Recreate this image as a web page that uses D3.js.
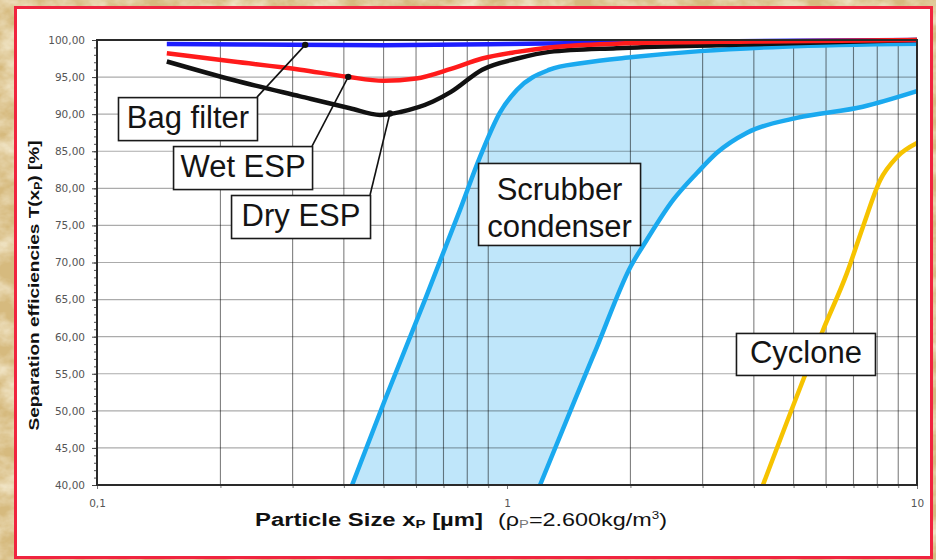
<!DOCTYPE html>
<html>
<head>
<meta charset="utf-8">
<script src="https://cdn.jsdelivr.net/npm/d3@7"></script>
<style>
  html, body { margin: 0; padding: 0; background: #dcc28a; }
  svg { display: block; }
</style>
</head>
<body>
<svg id="chart" width="936" height="560"></svg>
<script>
// ---- Data: separation efficiency (%) versus particle size (µm) ----
const yTickValues = d3.range(40, 101, 5);
const yMinorValues = d3.range(40, 101, 1);
const xTickValues = [0.1, 1, 10];
const xGridValues = [0.2, 0.3, 0.4, 0.5, 0.6, 0.7, 0.8, 0.9, 2, 3, 4, 5, 6, 7, 8, 9];

const bagFilter = [[0.148, 99.45], [0.3, 99.35], [0.5, 99.3], [1, 99.45], [2, 99.7], [5, 99.9], [10, 100]];
const wetESP = [[0.148, 98.2], [0.215, 97.1], [0.313, 96.0], [0.407, 95.05], [0.5, 94.5], [0.6, 94.8],
                [0.73, 96.1], [0.87, 97.5], [1.06, 98.4], [1.27, 99.0], [1.85, 99.5], [4, 99.8], [10, 100]];
const dryESP = [[0.148, 97.1], [0.215, 94.6], [0.313, 92.4], [0.414, 90.8], [0.49, 89.9], [0.55, 90.3],
                [0.66, 91.7], [0.73, 93.0], [0.87, 96.0], [1.06, 97.5], [1.27, 98.4], [1.85, 98.9],
                [3.25, 99.3], [10, 100]];
const scrubberUpper = [[0.419, 40], [0.504, 51.5], [0.63, 64.9], [0.768, 77.1], [0.859, 84.2], [0.961, 90.2],
                       [1.058, 93.3], [1.27, 96.0], [1.53, 96.9], [2.03, 97.7], [2.96, 98.5], [4.71, 99.1], [10, 99.5]];
const scrubberLower = [[1.204, 40], [1.465, 51.5], [1.657, 58.6], [2.0, 69.4], [2.19, 73.0], [2.54, 78.4],
                       [2.91, 82.1], [3.25, 84.8], [3.85, 87.5], [5.09, 89.5], [7.38, 91.0], [10, 93.1]];
const cyclone = [[4.21, 40], [5.9, 60.9], [6.75, 68.6], [7.38, 74.8], [8.13, 81.1], [8.93, 84.2], [10, 86.1]];

// Callout labels: marker position on the curve (x), box anchored by its top-right corner (data units)
const calloutNames = ["Bag filter", "Wet ESP", "Dry ESP"];
const calloutMarkX = [0.322, 0.41, 0.518];
const calloutBoxX = [0.2456, 0.3346, 0.4634];
const calloutBoxY = [92.3, 85.7, 79.1];

// ---- Layout ----
const svg = d3.select("#chart");
const W = 936, H = 560;
const plot = { left: 97, top: 40, right: 917, bottom: 485 };

const x = d3.scaleLog().domain([0.1, 10]).range([plot.left, plot.right]);
const y = d3.scaleLinear().domain([40, 100]).range([plot.bottom, plot.top]);

const locale = d3.formatLocale({ decimal: ",", thousands: ".", grouping: [3], currency: ["", ""] });
const fmtY = locale.format(".2f");
const fmtX = locale.format("~g");

// Parchment background texture
const defs = svg.append("defs");
const paper = defs.append("filter").attr("id", "paper").attr("x", 0).attr("y", 0).attr("width", 1).attr("height", 1);
paper.append("feTurbulence").attr("type", "fractalNoise").attr("baseFrequency", "0.035 0.05")
  .attr("numOctaves", 4).attr("seed", 7);
paper.append("feColorMatrix").attr("type", "matrix")
  .attr("values", "0 0 0 0 0.95  0 0 0 0 0.89  0 0 0 0 0.72  1.6 0 0 0 -0.55");
svg.append("rect").attr("width", W).attr("height", H).attr("fill", "#d6ba7e");
svg.append("rect").attr("width", W).attr("height", H).attr("filter", "url(#paper)");

// White panel with red border
svg.append("rect").attr("x", 15.5).attr("y", 7.5).attr("width", 916).attr("height", 550)
  .attr("fill", "#ffffff").attr("stroke", "#f0243f").attr("stroke-width", 3);

const line = d3.line().x(d => x(d[0])).y(d => y(d[1])).curve(d3.curveMonotoneX);

// Scrubber condenser band
const bandPath = line(scrubberUpper) + line(scrubberLower.slice().reverse()).replace(/^M/, "L") + "Z";
svg.append("path").attr("d", bandPath).attr("fill", "#bfe6fa").attr("stroke", "none");

// Grid
const grid = svg.append("g");
grid.selectAll("line.h").data(yTickValues.filter(v => v > 40 && v < 100)).join("line")
  .attr("x1", plot.left).attr("x2", plot.right)
  .attr("y1", d => y(d)).attr("y2", d => y(d))
  .attr("stroke", "rgba(0,0,0,0.33)").attr("stroke-width", 1.2);
grid.selectAll("line.v").data(xGridValues).join("line")
  .attr("x1", d => x(d)).attr("x2", d => x(d))
  .attr("y1", plot.top).attr("y2", plot.bottom)
  .attr("stroke", "rgba(0,0,0,0.5)").attr("stroke-width", 1.1);

// Curves
function drawCurve(data, color, width) {
  svg.append("path").datum(data).attr("d", line)
    .attr("fill", "none").attr("stroke", color).attr("stroke-width", width)
    .attr("stroke-linejoin", "round").attr("stroke-linecap", "butt");
}
drawCurve(scrubberUpper, "#1aa9ef", 4.5);
drawCurve(scrubberLower, "#1aa9ef", 4.5);
drawCurve(cyclone, "#f6c300", 4.5);
drawCurve(bagFilter, "#1e1eff", 4.5);
drawCurve(dryESP, "#111111", 4.5);
drawCurve(wetESP, "#ff1b1b", 4.5);

// Axes
const yMinor = svg.append("g").attr("transform", `translate(${plot.left},0)`)
  .call(d3.axisLeft(y).tickValues(yMinorValues).tickSize(3).tickFormat(""));
yMinor.select(".domain").remove();
yMinor.selectAll("line").attr("stroke", "#555");

const yAxis = svg.append("g").attr("transform", `translate(${plot.left},0)`)
  .call(d3.axisLeft(y).tickValues(yTickValues).tickSize(5).tickPadding(7).tickFormat(fmtY));
yAxis.select(".domain").remove();
yAxis.selectAll("line").attr("stroke", "#444");
yAxis.selectAll("text").attr("font-family", "DejaVu Sans, sans-serif").attr("font-size", 10.5).attr("fill", "#555");

const xMinor = svg.append("g").attr("transform", `translate(0,${plot.bottom})`)
  .call(d3.axisBottom(x).tickValues(xGridValues).tickSize(3).tickFormat(""));
xMinor.select(".domain").remove();
xMinor.selectAll("line").attr("stroke", "#777");

const xAxis = svg.append("g").attr("transform", `translate(0,${plot.bottom})`)
  .call(d3.axisBottom(x).tickValues(xTickValues).tickSize(4).tickPadding(11).tickFormat(fmtX));
xAxis.select(".domain").remove();
xAxis.selectAll("line").attr("stroke", "#777");
xAxis.selectAll("text").attr("font-family", "DejaVu Sans, sans-serif").attr("font-size", 10.5).attr("fill", "#555");

// Plot frame
svg.append("rect").attr("x", plot.left).attr("y", plot.top)
  .attr("width", plot.right - plot.left).attr("height", plot.bottom - plot.top)
  .attr("fill", "none").attr("stroke", "#2a2a2a").attr("stroke-width", 2);

// Axis titles
const yTitle = svg.append("text")
  .attr("transform", `translate(39,${(plot.top + plot.bottom) / 2 + 23}) rotate(-90)`)
  .attr("text-anchor", "middle")
  .attr("font-family", "Liberation Sans, Arial, sans-serif").attr("font-weight", "bold")
  .attr("font-size", 15.5).attr("fill", "#111")
  .attr("textLength", 290).attr("lengthAdjust", "spacingAndGlyphs");
yTitle.append("tspan").text("Separation efficiencies T(x");
yTitle.append("tspan").attr("font-size", 10).attr("dy", 3).text("P");
yTitle.append("tspan").attr("dy", -3).text(") [%]");

const xTitle = svg.append("text").attr("x", 255).attr("y", 526)
  .attr("font-family", "Liberation Sans, Arial, sans-serif").attr("font-weight", "bold")
  .attr("font-size", 17.5).attr("fill", "#111")
  .attr("textLength", 228).attr("lengthAdjust", "spacingAndGlyphs");
xTitle.append("tspan").text("Particle Size x");
xTitle.append("tspan").attr("font-size", 11).attr("dy", 2).text("P");
xTitle.append("tspan").attr("dy", -2).text(" [µm]");

const xTitle2 = svg.append("text").attr("x", 498).attr("y", 526)
  .attr("font-family", "Liberation Sans, Arial, sans-serif")
  .attr("font-size", 17.5).attr("fill", "#111")
  .attr("textLength", 169).attr("lengthAdjust", "spacingAndGlyphs");
xTitle2.append("tspan").text("(ρ");
xTitle2.append("tspan").attr("font-size", 11).attr("dy", 2).attr("fill", "#777").text("P");
xTitle2.append("tspan").attr("dy", -2).text("=2.600kg/m");
xTitle2.append("tspan").attr("font-size", 10).attr("dy", -7).text("3");
xTitle2.append("tspan").attr("dy", 7).text(")");

// Value of a series at a given particle size (linear in log-x between points)
function valueAt(series, xv) {
  const lx = Math.log10(xv);
  for (let i = 1; i < series.length; i++) {
    const a = series[i - 1], b = series[i];
    if (xv <= b[0]) {
      const t = (lx - Math.log10(a[0])) / (Math.log10(b[0]) - Math.log10(a[0]));
      return a[1] + t * (b[1] - a[1]);
    }
  }
  return series[series.length - 1][1];
}

// Labelled boxes
const boxFont = "Liberation Sans, Arial, sans-serif";
function labelBox(g, left, top, w, h, lines, baselines) {
  g.append("rect").attr("x", left + 0.5).attr("y", top + 0.5).attr("width", w).attr("height", h)
    .attr("fill", "#ffffff").attr("stroke", "#1a1a1a").attr("stroke-width", 1.6);
  lines.forEach((t, i) => {
    g.append("text").attr("x", left + w / 2 + 0.5).attr("y", top + baselines[i])
      .attr("text-anchor", "middle").attr("font-family", boxFont).attr("font-size", 31)
      .attr("fill", "#141414").text(t);
  });
}

const seriesForCallout = [bagFilter, wetESP, dryESP];
const callouts = svg.append("g");
calloutNames.forEach((name, i) => {
  const mx = x(calloutMarkX[i]);
  const my = y(valueAt(seriesForCallout[i], calloutMarkX[i]));
  const bx = x(calloutBoxX[i]);
  const by = y(calloutBoxY[i]);
  const g = callouts.append("g");
  g.append("line").attr("x1", mx).attr("y1", my).attr("x2", bx).attr("y2", by)
    .attr("stroke", "#111").attr("stroke-width", 1.6);
  labelBox(g, bx - 139, by, 139, 43, [name], [31]);
  g.append("circle").attr("cx", mx).attr("cy", my).attr("r", 3.2).attr("fill", "#111");
});

labelBox(svg.append("g"), x(0.850), y(83.42), 162, 82, ["Scrubber", "condenser"], [37, 74]);
labelBox(svg.append("g"), x(3.618), y(60.5), 139, 42, ["Cyclone"], [30]);
</script>
</body>
</html>
